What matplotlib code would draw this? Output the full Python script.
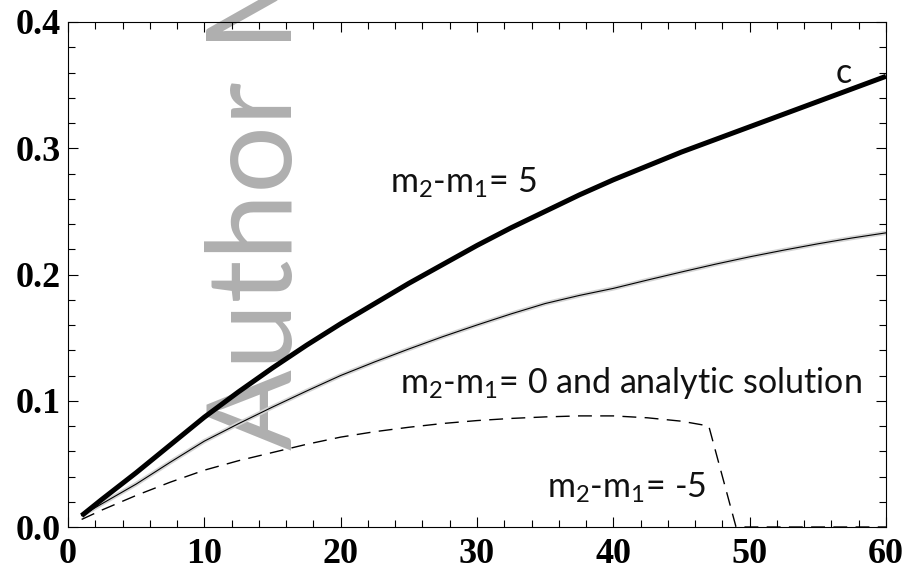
import matplotlib
matplotlib.use("Agg")
import matplotlib.pyplot as plt
from matplotlib.ticker import MultipleLocator

plt.rcParams['mathtext.fontset'] = 'custom'
plt.rcParams['mathtext.rm'] = 'Lato'
plt.rcParams['mathtext.default'] = 'regular'

# data
x_vals = [1, 2.5, 5, 7.5, 10, 12.5, 15, 17.5, 20, 22.5, 25, 27.5, 30, 32.5, 35,
          37.5, 40, 42.5, 45, 47.5, 50, 52.5, 55, 57.5, 60]
y_pos5 = [0.009, 0.022, 0.043, 0.065, 0.087, 0.107, 0.126, 0.144, 0.161, 0.177, 0.193,
          0.208, 0.223, 0.237, 0.250, 0.263, 0.275, 0.286, 0.297, 0.307, 0.317, 0.327,
          0.337, 0.347, 0.357]
y_zero = [0.009, 0.0185, 0.034, 0.0513, 0.068, 0.0818, 0.095, 0.1077, 0.120, 0.1308, 0.141,
          0.1508, 0.160, 0.1688, 0.177, 0.1834, 0.189, 0.1956, 0.202, 0.2082, 0.214, 0.2193,
          0.2243, 0.2289, 0.233]
x_neg = [1, 2.5, 5, 7.5, 10, 12.5, 15, 17.5, 20, 22.5, 25, 27.5, 30, 32.5, 35, 37.5,
         40, 42.5, 45, 47, 49, 60]
y_neg5 = [0.006, 0.0135, 0.025, 0.0355, 0.045, 0.0525, 0.059, 0.0655, 0.0712, 0.0755, 0.079,
          0.082, 0.0843, 0.086, 0.0872, 0.088, 0.088, 0.0865, 0.0838, 0.080, 0.0, 0.0]

x_ticks = [0, 10, 20, 30, 40, 50, 60]
y_ticks = [0.0, 0.1, 0.2, 0.3, 0.4]

W, H = 913, 573
fig = plt.figure(figsize=(W/100, H/100), dpi=100)
ax = fig.add_axes([68/W, 1-527/H, (886-68)/W, (527-22)/H])

ax.plot(x_vals, y_pos5, color='black', lw=3.6, solid_capstyle='butt', zorder=3)
ax.plot(x_vals, y_zero, color='#d4d4d4', lw=3.2, solid_capstyle='butt', zorder=2.5)
ax.plot(x_vals, y_zero, color='black', lw=0.8, zorder=3)
ax.plot(x_neg, y_neg5, color='black', lw=1.0, linestyle=(0, (10, 6)), zorder=3, clip_on=False)

ax.set_xlim(0, 60)
ax.set_ylim(0, 0.4)
ax.set_xticks(x_ticks)
ax.set_yticks(y_ticks)
ax.set_xticklabels([str(v) for v in x_ticks])
ax.set_yticklabels([f"{v:.1f}" for v in y_ticks])
ax.xaxis.set_minor_locator(MultipleLocator(2))
ax.yaxis.set_minor_locator(MultipleLocator(0.02))
ax.tick_params(which='both', direction='in', top=True, right=True, width=0.8)
ax.tick_params(which='major', length=7.5)
ax.tick_params(which='minor', length=5)
ax.tick_params(axis='y', which='major', pad=5)
ax.tick_params(axis='x', which='major', pad=8)
for lab in ax.get_xticklabels() + ax.get_yticklabels():
    lab.set_fontfamily('Liberation Serif')
    lab.set_fontweight('bold')
    lab.set_fontsize(26)
for s in ax.spines.values():
    s.set_linewidth(0.8)

# watermark
ax.text(292/W, 1-450/H, "Author Manuscript", transform=fig.transFigure,
        rotation=90, rotation_mode='anchor', ha='left', va='baseline',
        fontsize=86, family='Lato', color='#afafaf', zorder=1, clip_on=False)

tf = dict(family='Lato', fontsize=24.5, color='#111111', zorder=4)
ax.text(390/W, 1-193/H, "m$_2$-m$_1$= 5", transform=fig.transFigure, ha='left', va='baseline', **tf)
ax.text(400/W, 1-393/H, "m$_2$-m$_1$= 0 and analytic solution", transform=fig.transFigure, ha='left', va='baseline', **tf)
ax.text(547/W, 1-498/H, "m$_2$-m$_1$= -5", transform=fig.transFigure, ha='left', va='baseline', **tf)
ax.text(836/W, 1-83/H, "c", transform=fig.transFigure, ha='left', va='baseline', **tf)

fig.savefig("out.png", dpi=100)
